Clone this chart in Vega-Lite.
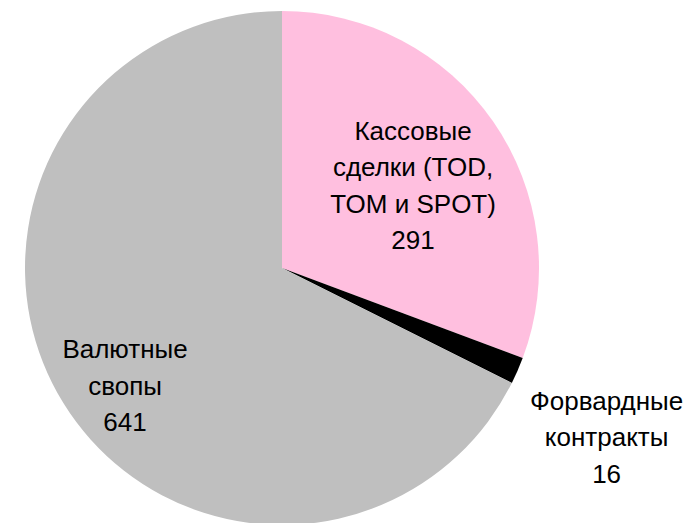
{
  "$schema": "https://vega.github.io/schema/vega-lite/v6.json",
  "width": 564,
  "height": 536,
  "autosize": {"type": "none"},
  "padding": {"left": 0, "top": 0, "right": 129, "bottom": 0},
  "background": "white",
  "config": {"view": {"stroke": null}},
  "data": {
    "values": [
      {"category": "Кассовые сделки (TOD, TOM и SPOT)", "value": 291, "label": "Кассовые\nсделки (TOD,\nTOM и SPOT)\n291", "k": 1},
      {"category": "Форвардные контракты", "value": 16, "label": "Форвардные\nконтракты\n16", "k": 2},
      {"category": "Валютные свопы", "value": 641, "label": "Валютные\nсвопы\n641", "k": 3}
    ]
  },
  "encoding": {
    "theta": {"field": "value", "type": "quantitative", "stack": true},
    "order": {"field": "k", "type": "quantitative"}
  },
  "layer": [
    {
      "mark": {"type": "arc", "outerRadius": 257},
      "encoding": {
        "color": {
          "field": "category",
          "type": "nominal",
          "scale": {
            "domain": ["Кассовые сделки (TOD, TOM и SPOT)", "Форвардные контракты", "Валютные свопы"],
            "range": ["#FFBFDF", "#000000", "#BFBFBF"]
          },
          "legend": null
        }
      }
    },
    {
      "mark": {"type": "text", "radius": 155, "dx": 3.7, "dy": -39.7, "font": "Liberation Sans", "fontSize": 26, "lineHeight": 36.5, "lineBreak": "\n", "align": "center", "baseline": "alphabetic"},
      "encoding": {
        "text": {"condition": {"test": "datum.k == 1", "field": "label"}, "value": ""},
        "color": {"value": "black"}
      }
    },
    {
      "mark": {"type": "text", "radius": 365, "dx": -10, "dy": -4.2, "font": "Liberation Sans", "fontSize": 26, "lineHeight": 36.5, "lineBreak": "\n", "align": "center", "baseline": "alphabetic"},
      "encoding": {
        "text": {"condition": {"test": "datum.k == 2", "field": "label"}, "value": ""},
        "color": {"value": "black"}
      }
    },
    {
      "mark": {"type": "text", "radius": 198, "dx": 11.5, "dy": -14, "font": "Liberation Sans", "fontSize": 26, "lineHeight": 36.5, "lineBreak": "\n", "align": "center", "baseline": "alphabetic"},
      "encoding": {
        "text": {"condition": {"test": "datum.k == 3", "field": "label"}, "value": ""},
        "color": {"value": "black"}
      }
    }
  ]
}
